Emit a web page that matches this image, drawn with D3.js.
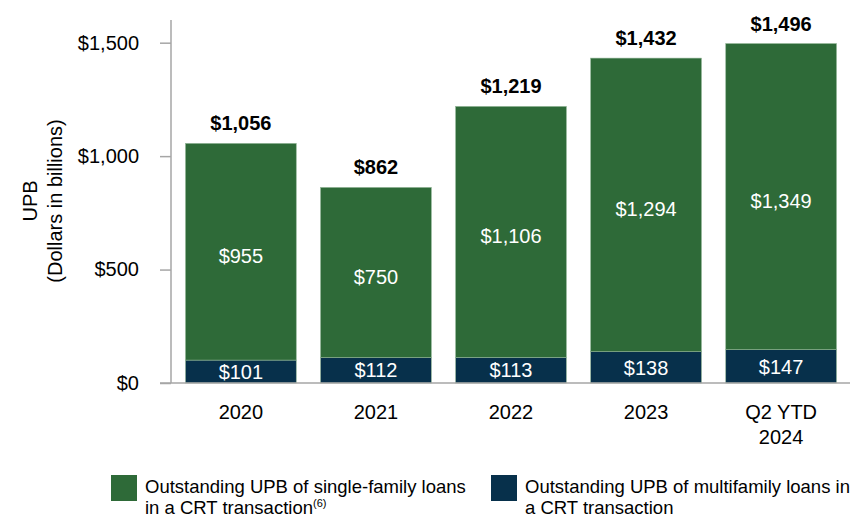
<!DOCTYPE html>
<html>
<head>
<meta charset="utf-8">
<script src="https://cdn.jsdelivr.net/npm/d3@7"></script>
<style>
  body { margin: 0; background: #fff; }
  svg text { font-family: "Liberation Sans", Arial, sans-serif; }
</style>
</head>
<body>
<svg id="chart" width="856" height="517"></svg>
<script>
// data
const categories = ["2020", "2021", "2022", "2023", "Q2 YTD 2024"];
const singleFamily = [955, 750, 1106, 1294, 1349];
const multifamily = [101, 112, 113, 138, 147];
const totals = [1056, 862, 1219, 1432, 1496];
const yTicks = [0, 500, 1000, 1500];
const seriesNames = [
  "Outstanding UPB of single-family loans in a CRT transaction",
  "Outstanding UPB of multifamily loans in a CRT transaction"
];

const GREEN = "#2e6a38";
const NAVY = "#07304b";
const AXIS = "#a6a6a6";

const svg = d3.select("#chart");

const x = d3.scaleBand()
  .domain(categories)
  .range([172, 850])
  .paddingInner(0.18)
  .paddingOuter(0.1);

const y = d3.scaleLinear().domain([0, 1600]).range([383, 20]);

const rows = categories.map((c, i) => ({
  cat: c, multi: multifamily[i], single: singleFamily[i], total: totals[i]
}));

const stack = d3.stack().keys(["multi", "single"]);
const layers = stack(rows);
const colors = { multi: NAVY, single: GREEN };

// bars
svg.append("g")
  .selectAll("g")
  .data(layers)
  .join("g")
  .attr("fill", d => colors[d.key])
  .selectAll("rect")
  .data(d => d)
  .join("rect")
  .attr("x", d => x(d.data.cat))
  .attr("width", x.bandwidth())
  .attr("y", d => y(d[1]))
  .attr("height", d => y(d[0]) - y(d[1]))
  .attr("stroke", "#8fb394")
  .attr("stroke-width", 0.6);

// segment labels
layers.forEach(layer => {
  svg.append("g")
    .selectAll("text")
    .data(layer)
    .join("text")
    .attr("x", d => x(d.data.cat) + x.bandwidth() / 2)
    .attr("y", d => (y(d[0]) + y(d[1])) / 2 + (layer.key === "single" ? 4 : 0))
    .attr("dy", "0.36em")
    .attr("text-anchor", "middle")
    .attr("fill", "#fff")
    .style("font-size", "20px")
    .text(d => "$" + d3.format(",")(d.data[layer.key]));
});

// totals
svg.append("g")
  .selectAll("text")
  .data(rows)
  .join("text")
  .attr("x", d => x(d.cat) + x.bandwidth() / 2)
  .attr("y", d => y(d.total) - 13)
  .attr("text-anchor", "middle")
  .style("font-size", "20px")
  .style("font-weight", "bold")
  .text(d => "$" + d3.format(",")(d.total));

// y axis
const yAxis = svg.append("g")
  .attr("transform", "translate(171,0)")
  .call(d3.axisLeft(y).tickValues(yTicks).tickSize(11).tickPadding(21)
    .tickFormat(d => "$" + d3.format(",")(d)));
yAxis.select(".domain").attr("stroke", AXIS).attr("stroke-width", 1.5)
  .attr("d", `M0,${y(0)}V20`);
yAxis.selectAll(".tick line").attr("stroke", AXIS).attr("stroke-width", 1.5);
yAxis.selectAll(".tick text").style("font-size", "20px").attr("fill", "#000");

// x axis
const xAxis = svg.append("g")
  .attr("transform", `translate(0,${y(0)})`)
  .call(d3.axisBottom(x).tickSize(0).tickFormat(""));
xAxis.select(".domain").attr("stroke", AXIS).attr("stroke-width", 1.5)
  .attr("d", "M160,0H850");

svg.append("g")
  .selectAll("text")
  .data(categories)
  .join("text")
  .attr("x", d => x(d) + x.bandwidth() / 2)
  .attr("y", 419)
  .attr("text-anchor", "middle")
  .style("font-size", "20px")
  .each(function (d) {
    const parts = d === "Q2 YTD 2024" ? ["Q2 YTD", "2024"] : [d];
    d3.select(this).selectAll("tspan")
      .data(parts)
      .join("tspan")
      .attr("x", x(d) + x.bandwidth() / 2)
      .attr("dy", (p, i) => i === 0 ? 0 : 25)
      .text(p => p);
  });

// y label
const yl = svg.append("text")
  .attr("transform", "translate(37,201) rotate(-90)")
  .attr("text-anchor", "middle")
  .style("font-size", "20px");
yl.append("tspan").attr("x", 0).attr("dy", 0).text("UPB");
yl.append("tspan").attr("x", 0).attr("dy", 25).text("(Dollars in billions)");

// legend
const legend = [
  { color: GREEN, x: 111, lines: ["Outstanding UPB of single-family loans", "in a CRT transaction"], sup: "(6)" },
  { color: NAVY, x: 491, lines: ["Outstanding UPB of multifamily loans in", "a CRT transaction"], sup: null }
];
const lg = svg.append("g").selectAll("g").data(legend).join("g");
lg.append("rect")
  .attr("x", d => d.x).attr("y", 475)
  .attr("width", 26).attr("height", 26)
  .attr("fill", d => d.color);
lg.each(function (d) {
  const g = d3.select(this);
  d.lines.forEach((line, i) => {
    const t = g.append("text")
      .attr("x", d.x + 34)
      .attr("y", 493 + i * 21)
      .style("font-size", "18.5px")
      .text(line);
    if (i === 1 && d.sup) {
      t.append("tspan").attr("dy", -7).style("font-size", "11px").text(d.sup);
    }
  });
});
</script>
</body>
</html>
